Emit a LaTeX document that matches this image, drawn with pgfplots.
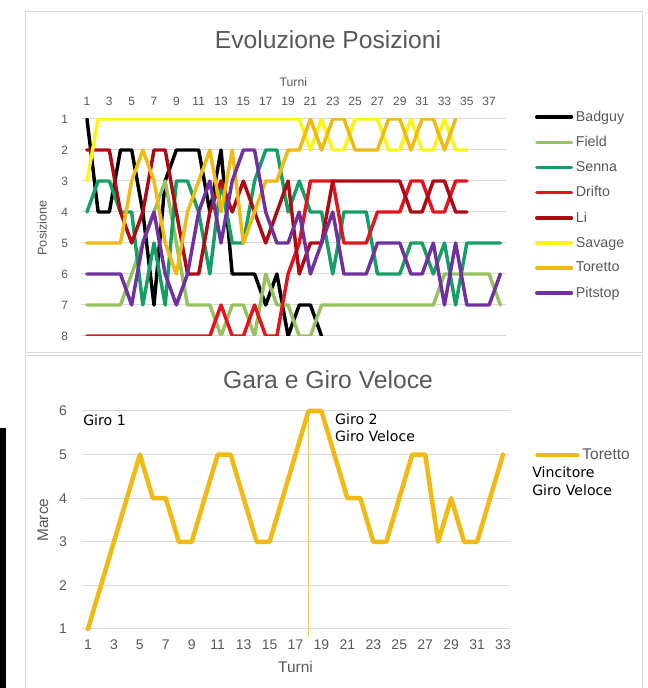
\documentclass[border=0pt]{standalone}
\usepackage{pgfplots}
\pgfplotsset{compat=1.18}
\usepackage{fontspec}
\setmainfont{Liberation Sans}
\newfontfamily\dejavu{DejaVu Sans}
\definecolor{txt}{RGB}{89,89,89}
\definecolor{gridc}{RGB}{217,217,217}
\definecolor{cField}{RGB}{150,195,95}
\definecolor{cSenna}{RGB}{20,160,100}
\definecolor{cDrifto}{RGB}{228,20,30}
\definecolor{cLi}{RGB}{175,10,20}
\definecolor{cSavage}{RGB}{250,245,20}
\definecolor{cToretto}{RGB}{240,185,20}
\definecolor{cPit}{RGB}{112,48,160}
\definecolor{cVline}{RGB}{240,200,90}
\begin{document}
\begin{tikzpicture}
\useasboundingbox (0,0) rectangle (485.25pt,516pt);
\fill[white] (0,0) rectangle (485.25pt,516pt);
\draw[gridc, line width=0.75pt] (18.75pt,251.25pt) rectangle (481.5pt,507pt);
\draw[gridc, line width=0.75pt] (18.75pt,-2pt) rectangle (481.5pt,249pt);
\fill[black] (0,0) rectangle (4.5pt,195pt);
\node[txt, font=\fontsize{18.5}{22}\selectfont] at (246pt,486pt) {Evoluzione Posizioni};
\node[txt, font=\fontsize{18.5}{22}\selectfont] at (246pt,231pt) {Gara e Giro Veloce};
\node[txt, font=\fontsize{9.2}{11}\selectfont] at (220pt,454.5pt) {Turni};
\node[txt, font=\fontsize{9.5}{11}\selectfont, rotate=90] at (31.5pt,345pt) {Posizione};
\node[txt, font=\fontsize{11.6}{13}\selectfont] at (221.6pt,15.75pt) {Turni};
\node[txt, font=\fontsize{11.6}{13}\selectfont, rotate=90] at (32.25pt,126pt) {Marce};

\begin{axis}[
  at={(220.24pt,345.375pt)}, anchor=center,
  scale only axis, width=318.4pt, height=162.75pt,
  xmin=0.5, xmax=38.5, ymin=1, ymax=8, y dir=reverse,
  xtick={1,3,...,37}, ytick={1,...,8},
  xticklabel pos=upper,
  tick style={draw=none},
  axis line style={draw=none},
  ymajorgrids, grid style={gridc, line width=0.75pt},
  tick label style={font=\fontsize{9}{10}\selectfont, text=txt},
  /pgf/number format/assume math mode=true,
  xticklabel shift=6.5pt, yticklabel shift=6.5pt,
  legend cell align=left,
  legend image code/.code={\draw[#1] (0pt,0pt) -- (26pt,0pt);},
  legend style={at={(1.068,1.051)}, anchor=north west, draw=none, fill=none,
    inner sep=0pt, row sep=5.75pt, font=\fontsize{10.7}{12}\selectfont, text=txt},
  every axis plot/.append style={line width=2.6pt, line join=round, line cap=round},
]
\addplot[black] coordinates {(1,1)(2,4)(3,4)(4,2)(5,2)(6,4)(7,7)(8,3)(9,2)(10,2)(11,2)(12,4)(13,2)(14,6)(15,6)(16,6)(17,7)(18,6)(19,8)(20,7)(21,7)(22,8)};
\addlegendentry{Badguy}
\addplot[cField] coordinates {(1,7)(2,7)(3,7)(4,7)(5,6)(6,5)(7,4)(8,3)(9,5)(10,7)(11,7)(12,7)(13,8)(14,7)(15,7)(16,8)(17,6)(18,7)(19,7)(20,8)(21,8)(22,7)(23,7)(24,7)(25,7)(26,7)(27,7)(28,7)(29,7)(30,7)(31,7)(32,7)(33,6)(34,6)(35,6)(36,6)(37,6)(38,7)};
\addlegendentry{Field}
\addplot[cSenna] coordinates {(1,4)(2,3)(3,3)(4,4)(5,4)(6,7)(7,5)(8,7)(9,3)(10,3)(11,4)(12,6)(13,3)(14,5)(15,5)(16,3)(17,2)(18,2)(19,4)(20,3)(21,4)(22,4)(23,6)(24,4)(25,4)(26,4)(27,6)(28,6)(29,6)(30,5)(31,5)(32,6)(33,5)(34,7)(35,5)(36,5)(37,5)(38,5)};
\addlegendentry{Senna}
\addplot[cDrifto] coordinates {(1,8)(2,8)(3,8)(4,8)(5,8)(6,8)(7,8)(8,8)(9,8)(10,8)(11,8)(12,8)(13,7)(14,8)(15,8)(16,7)(17,8)(18,8)(19,6)(20,5)(21,3)(22,3)(23,3)(24,5)(25,5)(26,5)(27,4)(28,4)(29,4)(30,3)(31,3)(32,4)(33,4)(34,3)(35,3)};
\addlegendentry{Drifto}
\addplot[cLi] coordinates {(1,2)(2,2)(3,2)(4,4)(5,5)(6,4)(7,2)(8,2)(9,4)(10,6)(11,6)(12,4)(13,3)(14,4)(15,3)(16,4)(17,5)(18,4)(19,3)(20,6)(21,5)(22,5)(23,3)(24,3)(25,3)(26,3)(27,3)(28,3)(29,3)(30,4)(31,4)(32,3)(33,3)(34,4)(35,4)};
\addlegendentry{Li}
\addplot[cSavage] coordinates {(1,3)(2,1)(3,1)(4,1)(5,1)(6,1)(7,1)(8,1)(9,1)(10,1)(11,1)(12,1)(13,1)(14,1)(15,1)(16,1)(17,1)(18,1)(19,1)(20,1)(21,2)(22,1)(23,2)(24,2)(25,1)(26,1)(27,1)(28,2)(29,2)(30,1)(31,2)(32,2)(33,1)(34,2)(35,2)};
\addlegendentry{Savage}
\addplot[cToretto] coordinates {(1,5)(2,5)(3,5)(4,5)(5,3)(6,2)(7,3)(8,5)(9,6)(10,4)(11,3)(12,2)(13,4)(14,2)(15,5)(16,4)(17,3)(18,3)(19,2)(20,2)(21,1)(22,2)(23,1)(24,1)(25,2)(26,2)(27,2)(28,1)(29,1)(30,2)(31,1)(32,1)(33,2)(34,1)};
\addlegendentry{Toretto}
\addplot[cPit] coordinates {(1,6)(2,6)(3,6)(4,6)(5,7)(6,5)(7,4)(8,6)(9,7)(10,6)(11,4)(12,3)(13,5)(14,3)(15,2)(16,2)(17,4)(18,5)(19,5)(20,4)(21,6)(22,5)(23,4)(24,6)(25,6)(26,6)(27,5)(28,5)(29,5)(30,6)(31,6)(32,5)(33,7)(34,5)(35,7)(36,7)(37,7)(38,6)};
\addlegendentry{Pitstop}
\end{axis}

\begin{axis}[
  at={(221.625pt,126pt)}, anchor=center,
  scale only axis, width=321pt, height=163.5pt,
  xmin=0.5, xmax=33.5, ymin=1, ymax=6,
  xtick={1,3,...,33}, ytick={1,...,6},
  tick style={draw=none},
  axis line style={draw=none},
  ymajorgrids, grid style={gridc, line width=0.75pt},
  tick label style={font=\fontsize{10.5}{12}\selectfont, text=txt},
  /pgf/number format/assume math mode=true,
  xticklabel shift=4.5pt, yticklabel shift=7.4pt,
  clip=false,
  legend cell align=left,
  legend image code/.code={\draw[#1] (0pt,0pt) -- (30pt,0pt);},
  legend style={at={(1.0596,0.798)}, anchor=west, draw=none, fill=none,
    inner sep=0pt, font=\fontsize{11.6}{13}\selectfont, text=txt},
]
\addplot[cVline, line width=0.8pt, forget plot] coordinates {(18,6)(18,0.82)};
\addplot[cToretto, line width=3.4pt, line join=round, line cap=round] coordinates {(1,1)(2,2)(3,3)(4,4)(5,5)(6,4)(7,4)(8,3)(9,3)(10,4)(11,5)(12,5)(13,4)(14,3)(15,3)(16,4)(17,5)(18,6)(19,6)(20,5)(21,4)(22,4)(23,3)(24,3)(25,4)(26,5)(27,5)(28,3)(29,4)(30,3)(31,3)(32,4)(33,5)};
\addlegendentry{Toretto}
\node[anchor=west, inner sep=0pt, font=\dejavu\fontsize{10.6}{12}\selectfont] at (axis description cs:0.0035,0.959) {Giro 1};
\node[anchor=west, inner sep=0pt, font=\dejavu\fontsize{10.6}{12}\selectfont] at (axis description cs:0.592,0.96) {Giro 2};
\node[anchor=west, inner sep=0pt, font=\dejavu\fontsize{10.6}{12}\selectfont] at (axis description cs:0.592,0.885) {Giro Veloce};
\node[anchor=west, inner sep=0pt, font=\dejavu\fontsize{10.6}{12}\selectfont] at (axis description cs:1.0526,0.720) {Vincitore};
\node[anchor=west, inner sep=0pt, font=\dejavu\fontsize{10.6}{12}\selectfont] at (axis description cs:1.0526,0.638) {Giro Veloce};
\end{axis}
\end{tikzpicture}
\end{document}
